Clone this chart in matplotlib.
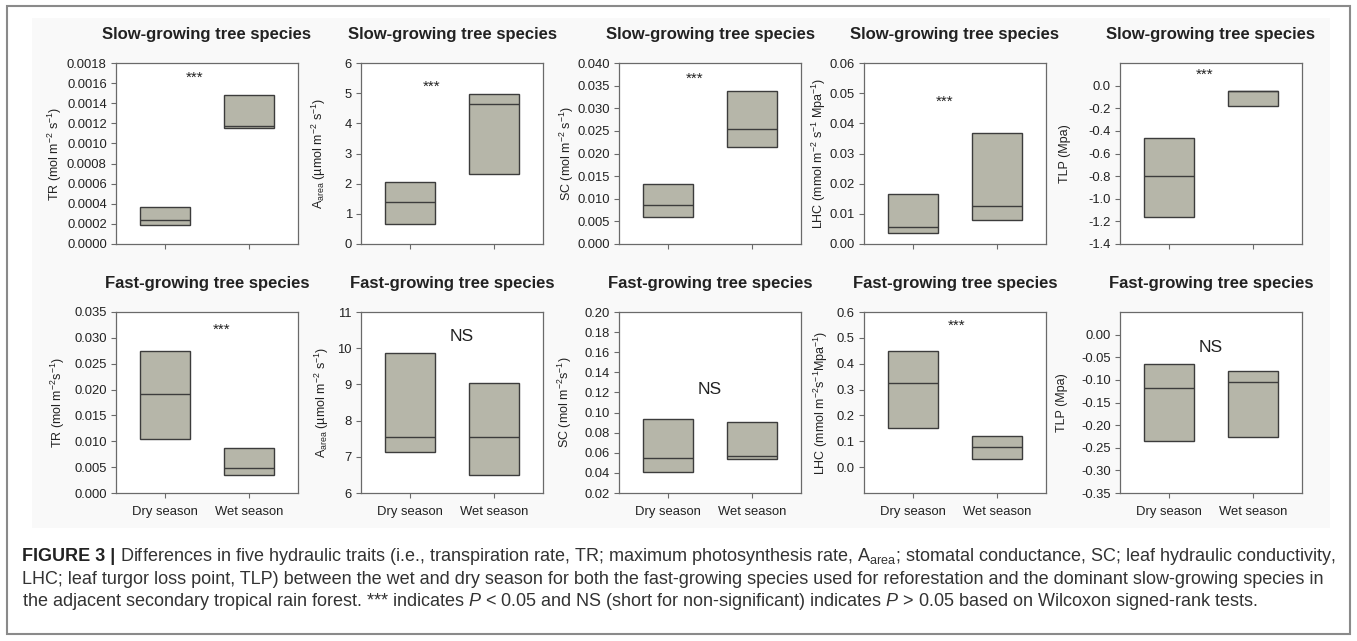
import numpy as np
import matplotlib
matplotlib.use("Agg")
import matplotlib.pyplot as plt
from matplotlib.patches import Rectangle
from matplotlib.ticker import FormatStrFormatter

plt.rcParams['font.family'] = ['Liberation Sans', 'DejaVu Sans']
plt.rcParams['mathtext.fontset'] = 'custom'
plt.rcParams['mathtext.rm'] = 'Liberation Sans'
plt.rcParams['mathtext.it'] = 'Liberation Sans:italic'
plt.rcParams['mathtext.bf'] = 'Liberation Sans:bold'
plt.rcParams['axes.unicode_minus'] = False

seasons = ['Dry season', 'Wet season']

# (bottom, median, top) of each box, dry then wet
slow_tr = [(0.00019, 0.00024, 0.00037), (0.00115, 0.00117, 0.00148)]
slow_a = [(0.65, 1.40, 2.05), (2.33, 4.65, 4.98)]
slow_sc = [(0.0060, 0.0087, 0.0132), (0.0215, 0.0255, 0.0338)]
slow_lhc = [(0.0036, 0.0056, 0.0166), (0.0080, 0.0126, 0.0368)]
slow_tlp = [(-1.16, -0.795, -0.463), (-0.18, -0.05, -0.046)]

fast_tr = [(0.0104, 0.0192, 0.0274), (0.0035, 0.0048, 0.0087)]
fast_a = [(7.14, 7.54, 9.88), (6.50, 7.55, 9.05)]
fast_sc = [(0.041, 0.055, 0.094), (0.054, 0.057, 0.091)]
fast_lhc = [(0.153, 0.325, 0.451), (0.030, 0.077, 0.119)]
fast_tlp = [(-0.234, -0.118, -0.0655), (-0.227, -0.105, -0.081)]

# significance labels and where they sit (x, y in data units)
sig_text = ['***', '***', '***', '***', '***', '***', 'NS', 'NS', '***', 'NS']
sig_x = [1.35, 1.25, 1.31, 1.37, 1.42, 1.68, 1.62, 1.5, 1.52, 1.5]
sig_y = [0.00165, 5.2, 0.0365, 0.047, 0.10, 0.0315, 10.33, 0.123, 0.546, -0.028]

ylabels = [
    'TR (mol m$^{-2}$ s$^{-1}$)',
    'A$_{\\mathrm{area}}$ (µmol m$^{-2}$ s$^{-1}$)',
    'SC (mol m$^{-2}$ s$^{-1}$)',
    'LHC (mmol m$^{-2}$ s$^{-1}$ Mpa$^{-1}$)',
    'TLP (Mpa)',
    'TR (mol m$^{-2}$s$^{-1}$)',
    'A$_{\\mathrm{area}}$ (µmol m$^{-2}$ s$^{-1}$)',
    'SC (mol m$^{-2}$s$^{-1}$)',
    'LHC (mmol m$^{-2}$s$^{-1}$Mpa$^{-1}$)',
    'TLP (Mpa)',
]

boxes = [slow_tr, slow_a, slow_sc, slow_lhc, slow_tlp,
         fast_tr, fast_a, fast_sc, fast_lhc, fast_tlp]
ylims = [(0, 0.0018), (0, 6), (0, 0.040), (0, 0.06), (-1.4, 0.2),
         (0, 0.035), (6, 11), (0.02, 0.20), (-0.1, 0.6), (-0.35, 0.05)]
yticks = [np.linspace(0, 0.0018, 10), np.arange(0, 7), np.linspace(0, 0.04, 9),
          np.linspace(0, 0.06, 7), np.linspace(-1.4, 0, 8),
          np.linspace(0, 0.035, 8), np.arange(6, 12), np.linspace(0.02, 0.2, 10),
          np.linspace(0, 0.6, 7), np.linspace(-0.35, 0, 8)]
tick_fmt = ['%.4f', '%d', '%.3f', '%.2f', '%.1f',
            '%.3f', '%d', '%.2f', '%.1f', '%.2f']
label_x = [0.335, 0.23, 0.285, 0.247, 0.30, 0.32, 0.215, 0.30, 0.236, 0.316]

W, H = 1357, 641
fig = plt.figure(figsize=(W / 100, H / 100), dpi=100)

# faint grey panel behind the plots and the outer frame
fig.patches.append(Rectangle((32 / W, 1 - 528 / H), 1298 / W, 510 / H,
                             transform=fig.transFigure, facecolor='#f9f9f9',
                             edgecolor='none', zorder=-2))
fig.patches.append(Rectangle((7 / W, 1 - 634 / H), 1343 / W, 628 / H,
                             transform=fig.transFigure, facecolor='none',
                             edgecolor='#8a8a8a', linewidth=1.5, zorder=-1))

col_left = [116, 361, 619, 864, 1120]
row_top = [63, 312]
aw, ah = 182, 181
box_fill = '#b6b6a9'
dark = '#3c3c3c'

for i in range(10):
    r, c = divmod(i, 5)
    ax = fig.add_axes([col_left[c] / W, 1 - (row_top[r] + ah) / H, aw / W, ah / H])
    ax.set_facecolor('white')
    for j, (lo, med, hi) in enumerate(boxes[i]):
        x = j + 1
        ax.bar(x, hi - lo, bottom=lo, width=0.6, color=box_fill,
               edgecolor=dark, linewidth=1.0, zorder=2)
        ax.hlines(med, x - 0.3, x + 0.3, color=dark, linewidth=1.0, zorder=3)
    ax.set_xlim(0.41, 2.59)
    ax.set_ylim(*ylims[i])
    ax.set_yticks(yticks[i])
    ax.yaxis.set_major_formatter(FormatStrFormatter(tick_fmt[i]))
    ax.set_xticks([1, 2])
    if r == 1:
        ax.set_xticklabels(seasons, fontsize=7.3)
    else:
        ax.set_xticklabels([])
    for s in ax.spines.values():
        s.set_color('#6a6a6a')
        s.set_linewidth(0.9)
    ax.tick_params(direction='out', length=3.6, width=0.8, color='#6a6a6a',
                   labelsize=9.4, pad=3, labelcolor='#222222')
    ax.tick_params(axis='x', pad=6)
    ax.set_ylabel(ylabels[i], fontsize=9, color='#222222')
    ax.yaxis.label.set_va('center')
    ax.yaxis.set_label_coords(-label_x[i], 0.5)
    if sig_text[i] == 'NS':
        ax.text(sig_x[i], sig_y[i], 'NS', ha='center', va='center', fontsize=12.5,
                color='#222222')
    else:
        ax.text(sig_x[i], sig_y[i], '***', ha='center', va='center', fontsize=11,
                color='#222222')
    title = 'Slow-growing tree species' if r == 0 else 'Fast-growing tree species'
    ax.text(0.5, 1 + 29 / ah, title, transform=ax.transAxes, ha='center',
            va='center', fontsize=12, fontweight='bold', color='#222222')

# caption
cap_size = 13
cap_lines = [
    ' Differences in five hydraulic traits (i.e., transpiration rate, TR; maximum photosynthesis rate, A$_{\\mathrm{area}}$; stomatal conductance, SC; leaf hydraulic conductivity,',
    'LHC; leaf turgor loss point, TLP) between the wet and dry season for both the fast-growing species used for reforestation and the dominant slow-growing species in',
    'the adjacent secondary tropical rain forest. *** indicates $P$ < 0.05 and NS (short for non-significant) indicates $P$ > 0.05 based on Wilcoxon signed-rank tests.',
]
base_y = [561, 584, 606]
x0 = 22 / W
bold = fig.text(x0, 1 - base_y[0] / H, 'FIGURE 3 |', fontsize=cap_size,
                fontweight='bold', va='baseline', ha='left', color='#222222')
fig.canvas.draw()
bb = bold.get_window_extent(fig.canvas.get_renderer())
fig.text(bb.x1 / W, 1 - base_y[0] / H, cap_lines[0], fontsize=cap_size,
         va='baseline', ha='left', color='#333333')
for k in (1, 2):
    fig.text(x0, 1 - base_y[k] / H, cap_lines[k], fontsize=cap_size,
             va='baseline', ha='left', color='#333333')

fig.savefig('out.png', dpi=100)
